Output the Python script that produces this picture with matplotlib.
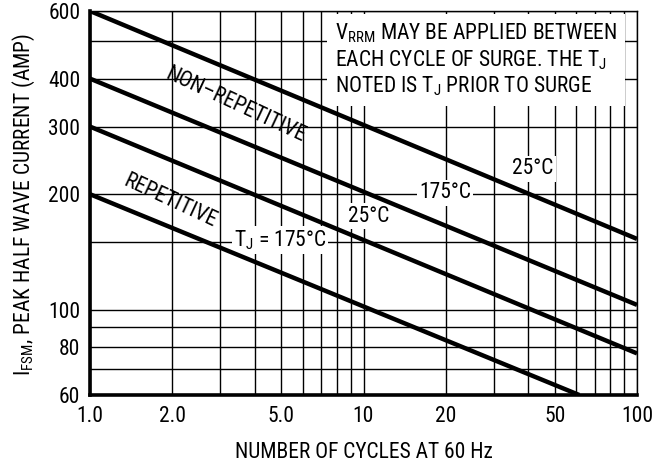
import matplotlib
matplotlib.use("Agg")
import matplotlib.pyplot as plt
from matplotlib import font_manager

# ---------------------------------------------------------------------------
# Data
# ---------------------------------------------------------------------------
cycles = [1, 100]
nonrep_25c = [600, 153]
nonrep_175c = [400, 103]
rep_25c = [300, 77]
rep_175c_cycles = [1, 61.5]
rep_175c = [200, 60]

x_ticks = [1, 2, 5, 10, 20, 50, 100]
x_tick_labels = ["1.0", "2.0", "5.0", "10", "20", "50", "100"]
x_grid = [3, 4, 6, 7, 8, 9, 30, 40, 60, 70, 80, 90]
y_ticks = [60, 80, 100, 200, 300, 400, 600]
y_tick_labels = ["60", "80", "100", "200", "300", "400", "600"]
y_grid = [70, 90, 150, 500]

# font: condensed sans if present (datasheet uses Helvetica Narrow)
names = {f.name for f in font_manager.fontManager.ttflist}
fam = "Liberation Sans"
for cand in ("Roboto Condensed", "Archivo Narrow", "PT Sans Narrow"):
    if cand in names:
        fam = cand
        break
plt.rcParams["font.family"] = [fam, "DejaVu Sans"]
plt.rcParams["mathtext.fontset"] = "custom"
plt.rcParams["mathtext.rm"] = fam
plt.rcParams["mathtext.it"] = fam

fs = 15.5

fig = plt.figure(figsize=(6.64, 4.70), dpi=100)
ax = fig.add_axes([90 / 664, 1 - 395 / 470, 547 / 664, 384 / 470])
ax.set_xscale("log")
ax.set_yscale("log")
ax.set_xlim(1, 100)
ax.set_ylim(60, 600)

ax.set_xticks(x_ticks)
ax.set_xticklabels(x_tick_labels)
ax.set_xticks(x_grid, minor=True)
ax.set_xticklabels([], minor=True)
ax.set_yticks(y_ticks)
ax.set_yticklabels(y_tick_labels)
ax.set_yticks(y_grid, minor=True)
ax.set_yticklabels([], minor=True)
ax.tick_params(which="both", length=0, labelsize=fs)
ax.tick_params(axis="x", pad=8)
ax.tick_params(axis="y", pad=7)
ax.grid(True, which="both", color="black", linewidth=1.0)
ax.set_axisbelow(True)

for side in ("left", "bottom"):
    ax.spines[side].set_linewidth(2.6)
for side in ("top", "right"):
    ax.spines[side].set_linewidth(1.0)

lw = 3.2
ax.plot(cycles, nonrep_25c, color="black", lw=lw, solid_capstyle="butt", zorder=4)
ax.plot(cycles, nonrep_175c, color="black", lw=lw, solid_capstyle="butt", zorder=4)
ax.plot(cycles, rep_25c, color="black", lw=lw, solid_capstyle="butt", zorder=4)
ax.plot(rep_175c_cycles, rep_175c, color="black", lw=lw, solid_capstyle="butt", zorder=4)

# curve labels
ax.text(236 / 664, 1 - 105 / 470, "NON–REPETITIVE", transform=fig.transFigure,
        rotation=-25, ha="center", va="center", fontsize=fs, zorder=3)
ax.text(170 / 664, 1 - 201 / 470, "REPETITIVE", transform=fig.transFigure,
        rotation=-25, ha="center", va="center", fontsize=fs, zorder=3)

box = dict(facecolor="white", edgecolor="none", pad=1.5)
for (px, py, s) in [(280, 240, r"T$_\mathrm{J}$ = 175°C"),
                    (369, 216, "25°C"),
                    (445, 193, "175°C"),
                    (533, 169, "25°C")]:
    ax.text(px / 664, 1 - py / 470, s, transform=fig.transFigure, ha="center",
            va="center", fontsize=fs, bbox=box, zorder=3)

note = ("V$_\\mathrm{RRM}$ MAY BE APPLIED BETWEEN\n"
        "EACH CYCLE OF SURGE. THE T$_\\mathrm{J}$\n"
        "NOTED IS T$_\\mathrm{J}$ PRIOR TO SURGE")
ax.text(335 / 664, 1 - 60 / 470, note, transform=fig.transFigure, ha="left",
        va="center", fontsize=fs, linespacing=1.15,
        bbox=dict(facecolor="white", edgecolor="none", pad=6), zorder=3)

fig.text(364 / 664, 1 - 452 / 470, "NUMBER OF CYCLES AT 60 Hz", ha="center",
         va="center", fontsize=fs)
fig.text(24 / 664, 1 - 205 / 470, "I$_\\mathrm{FSM}$, PEAK HALF WAVE CURRENT (AMP)",
         ha="center", va="center", rotation=90, fontsize=fs)

fig.savefig("out.png", dpi=100)
